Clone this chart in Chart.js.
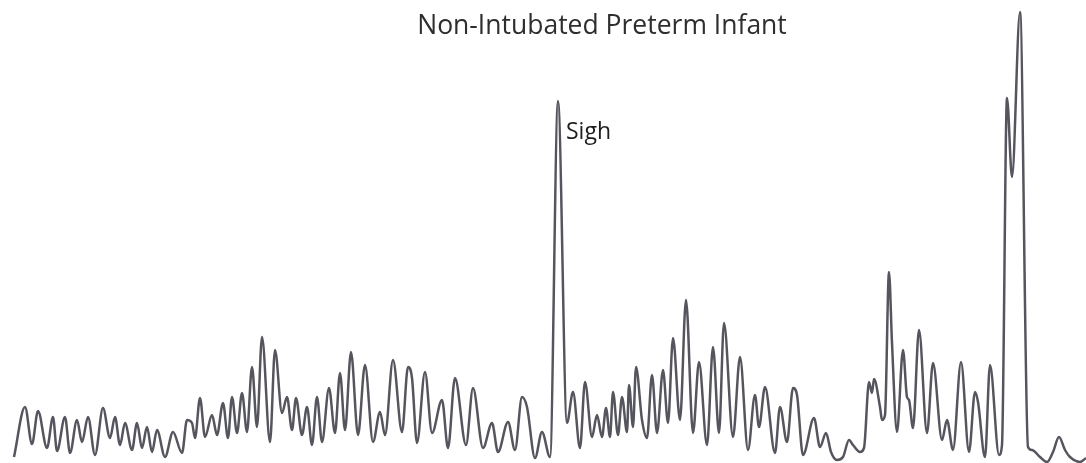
<!DOCTYPE html>
<html>
<head>
<meta charset="utf-8">
<script src="https://cdn.jsdelivr.net/npm/chart.js@4/dist/chart.umd.min.js"></script>
<style>
  html, body { margin: 0; padding: 0; background: #ffffff; }
  #wave { display: block; }
</style>
</head>
<body>
<canvas id="wave" width="1086" height="463"></canvas>
<script>
// breathing trace: sample position and amplitude above baseline
var t = [14,25,32,38,47,53,57,65,70,77,82,88,95,103,110,115,120,125,132,137,142,147,152,157,165,
  173,182,187,192,195,200,205,212,217,223,228,232,237,242,247,252,257,262,270,275,282,287,292,296,
  302,307,312,317,322,329,335,340,345,351,358,365,373,380,385,393,402,408,412,417,425,432,442,448,
  455,466,473,483,492,498,508,515,522,527,535,542,550,558,567,573,580,585,592,597,602,606,610,613,
  618,622,627,629,633,636,642,647,652,657,663,668,673,680,686,693,699,707,713,719,724,733,740,748,
  755,759,765,775,780,787,793,797,803,814,820,826,831,837,843,849,853,860,864,869,872,874,880,882,
  885,889,892,897,903,907,909,913,919,927,933,942,947,953,961,969,975,978,985,990,999,1002,1007,
  1012,1020,1028,1032,1040,1047,1053,1059,1065,1070,1080,1086]
var amp = [6,56,19,52,15,46,12,46,10,43,21,46,8,55,25,46,18,40,13,40,15,36,11,33,6,
  31,10,43,40,25,65,26,48,28,60,25,66,30,70,31,96,36,126,21,113,50,66,33,65,
  28,56,18,66,21,75,30,90,33,111,28,98,21,51,28,103,31,96,85,20,91,30,63,15,
  85,18,75,15,40,11,41,13,66,56,5,31,6,362,40,71,15,81,26,48,26,55,26,71,
  28,66,31,78,36,96,43,25,88,30,93,40,125,43,163,30,101,18,116,30,140,26,106,13,
  68,36,76,10,56,21,75,68,8,45,16,30,11,3,6,23,18,11,15,81,70,84,56,43,
  48,191,120,31,113,66,63,35,133,30,100,23,43,13,101,11,71,61,6,98,8,18,365,
  286,451,16,13,6,1,11,26,13,6,1,5]

var titleText = 'Non-Intubated Preterm Infant'
var sighLabel = 'Sigh'
var sighT = 558

var points = []
for (var i = 0; i < t.length; i++) {
  points.push({x: t[i], y: amp[i]})
}

const textPlugin = {
  id: 'textPlugin',
  afterDatasetsDraw(chart) {
    const ctx = chart.ctx
    const x = chart.scales.x
    ctx.save()
    ctx.fillStyle = '#2e2e2e'
    ctx.font = '26.5px "Open Sans"'
    ctx.textAlign = 'center'
    ctx.textBaseline = 'alphabetic'
    ctx.fillText(titleText, 602, 34)
    ctx.fillStyle = '#1e1e1e'
    ctx.font = '23px "Open Sans"'
    ctx.textAlign = 'left'
    ctx.fillText(sighLabel, x.getPixelForValue(sighT) + 8, 139)
    ctx.restore()
  }
}

new Chart(document.getElementById('wave'), {
  type: 'line',
  data: {
    datasets: [{
      data: points,
      borderColor: '#55555e',
      borderWidth: 2.5,
      pointRadius: 0,
      cubicInterpolationMode: 'monotone',
      fill: false
    }]
  },
  options: {
    responsive: false,
    animation: false,
    layout: { padding: 0 },
    plugins: { legend: { display: false }, tooltip: { enabled: false } },
    scales: {
      x: { type: 'linear', min: 0, max: 1086, display: false },
      y: { min: 0, max: 463, display: false }
    }
  },
  plugins: [textPlugin]
})
</script>
</body>
</html>
